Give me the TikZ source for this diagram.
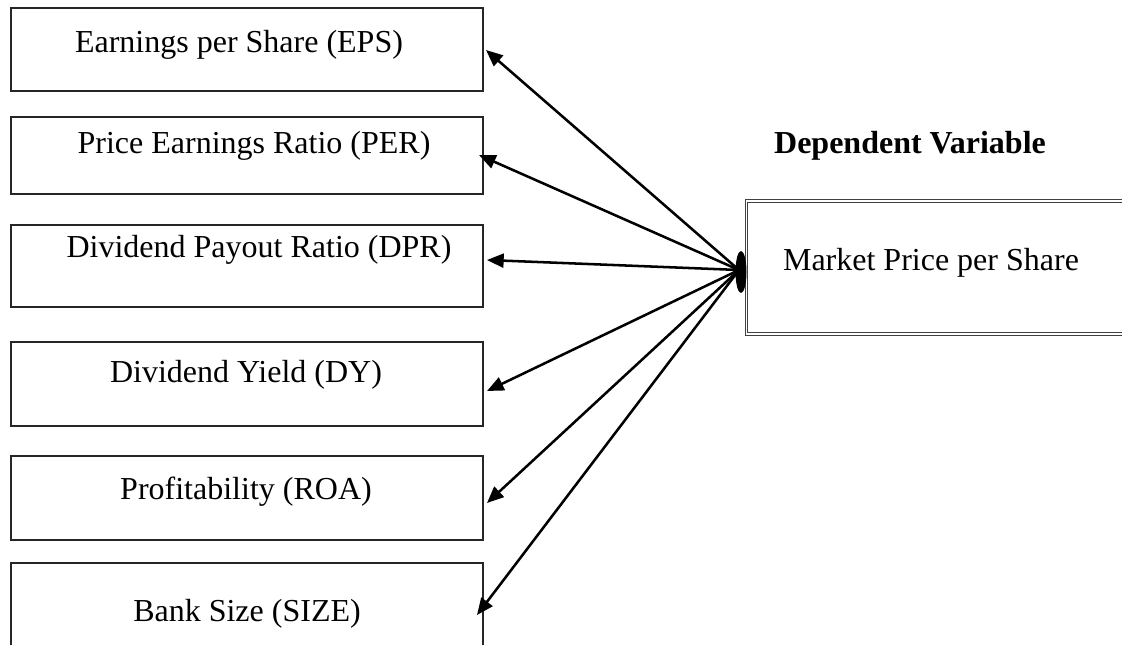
\documentclass[tikz,border=0pt]{standalone}
\usepackage{fontspec}
\setmainfont{Liberation Serif}
\usetikzlibrary{arrows.meta,shapes.geometric}
\begin{document}
\begin{tikzpicture}[x=0.75pt,y=-0.75pt,
  varbox/.style={draw=black!85,line width=1.4pt,rectangle,inner sep=0pt,
    minimum width={472*0.75pt}},
  lbl/.style={anchor=base,inner sep=0pt,font=\fontsize{24}{28}\selectfont},
  link/.style={line width=1.9pt,-{Triangle[length=12.5pt,width=10.5pt]}}]
\useasboundingbox (0,0) rectangle (1122,645);
\clip (0,0) rectangle (1122,645);

% independent variables
\node[varbox,minimum height={83*0.75pt}] (eps) at (247,49.5) {};
\node[varbox,minimum height={77*0.75pt}] (per) at (247,155.5) {};
\node[varbox,minimum height={82*0.75pt}] (dpr) at (247,266) {};
\node[varbox,minimum height={84*0.75pt}] (dy) at (247,384) {};
\node[varbox,minimum height={84*0.75pt}] (roa) at (247,498) {};
\node[varbox,minimum height={102*0.75pt}] (size) at (247,614) {};

\node[lbl] (epsl) at (239,53) {Earnings per Share (EPS)};
\node[lbl] (perl) at (254,154) {Price Earnings Ratio (PER)};
\node[lbl] (dprl) at (259,258) {Dividend Payout Ratio (DPR)};
\node[lbl] (dyl) at (246,383) {Dividend Yield (DY)};
\node[lbl] (roal) at (246,499) {Profitability (ROA)};
\node[lbl] (sizel) at (247,621) {Bank Size (SIZE)};

% dependent variable
\node[lbl,font=\fontsize{24}{28}\selectfont\bfseries] (dvhead) at (910,154) {Dependent Variable};
\node[draw=black!75,double=white,double distance=1.3pt,line width=0.8pt,
  rectangle,inner sep=0pt,minimum width={420*0.75pt},minimum height={133*0.75pt}]
  (mps) at (956.5,267.5) {};
\node[lbl] (mpsl) at (931,271) {Market Price per Share};

% arrow heads on the independent variables
\coordinate (t1) at (486,50);
\coordinate (t2) at (479,155);
\coordinate (t3) at (487,260);
\coordinate (t4) at (487,391);
\coordinate (t5) at (487,503);
\coordinate (t6) at (477,615);

\coordinate (src) at (739,270);
\foreach \t in {t1,t2,t3,t4,t5,t6}
  \draw[link] (src) -- (\t);

\node[ellipse,fill=black,inner sep=0pt,minimum width={11*0.75pt},
  minimum height={42*0.75pt}] (hub) at (741,272) {};
\end{tikzpicture}
\end{document}
